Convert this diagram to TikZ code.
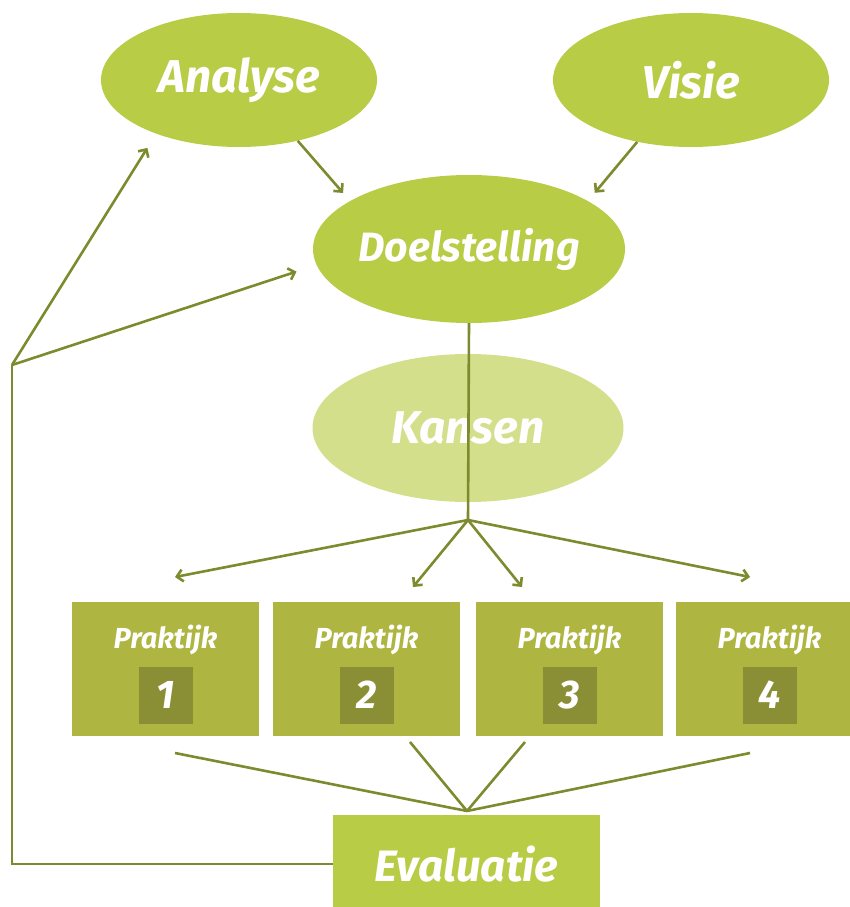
\documentclass[tikz,border=0pt]{standalone}
\usepackage{fontspec}
\setmainfont{Fira Sans}
\usetikzlibrary{shapes.geometric, arrows.meta, positioning}

\definecolor{leaf}{RGB}{184,204,70}
\definecolor{leaflight}{RGB}{212,223,140}
\definecolor{boxgreen}{RGB}{174,181,65}
\definecolor{boxdark}{RGB}{138,143,53}
\definecolor{stem}{RGB}{125,138,46}

\tikzset{
  bubble/.style={ellipse, fill=leaf, inner sep=0pt},
  bubbletext/.style={text=white, inner sep=0pt,
    font=\fontsize{46}{50}\selectfont\bfseries\itshape},
  praktijk/.style={fill=boxgreen, minimum width=187pt, minimum height=134pt, inner sep=0pt},
  praktijktext/.style={text=white, inner sep=0pt, font=\fontsize{29}{32}\selectfont\bfseries\itshape},
  numbox/.style={fill=boxdark, text=white, minimum width=54pt, minimum height=57pt,
    inner sep=0pt, font=\fontsize{40}{42}\selectfont\bfseries\itshape},
  link/.style={stem, line width=2.6pt},
}

\begin{document}
\begin{tikzpicture}[x=1pt, y=-1pt, >={Straight Barb[length=6pt,width=12pt]}]
    \useasboundingbox (0,0) rectangle (850,907);

    % --- Positions ---
    \coordinate (back) at (12,365);
    \coordinate (split) at (468,520);
    \coordinate (merge) at (467,811);

    % --- Ellipses ---
    \node[bubble, minimum width=276pt, minimum height=134pt,
      label={[bubbletext]center:Analyse}] (analyse) at (239,80) {};
    \node[bubble, minimum width=276pt, minimum height=134pt,
      label={[bubbletext]center:Visie}] (visie) at (691,80) {};
    \node[bubble, minimum width=312pt, minimum height=148pt,
      label={[bubbletext, font=\fontsize{41}{44}\selectfont\bfseries\itshape]center:Doelstelling}] (doel) at (469,249) {};
    \node[bubble, fill=leaflight, minimum width=311pt, minimum height=148pt,
      label={[bubbletext]center:Kansen}] (kansen) at (468,428) {};

    % --- Praktijk boxes ---
    \foreach \i/\x in {1/165.5, 2/366.5, 3/569.5, 4/769.5} {
      \node[praktijk] (prak\i) at (\x,669) {};
      \node[praktijktext] (txt\i) at ([yshift=29pt]prak\i.center) {Praktijk};
      \node[numbox] (num\i) at ([yshift=-26pt]prak\i.center) {\i};
    }

    % --- Evaluatie ---
    \node[fill=leaf, minimum width=267pt, minimum height=98pt, inner sep=0pt,
      label={[bubbletext, font=\fontsize{44}{48}\selectfont\bfseries\itshape]center:Evaluatie}] (eval) at (466.5,864) {};

    % --- Arrows into Doelstelling ---
    \draw[link, ->, shorten >=10.6pt] (analyse.-46) -- (doel.158);
    \draw[link, ->, shorten >=10.6pt] (visie.229) -- (doel.22);

    % --- Feedback loop ---
    \draw[link] (eval.west) -| (back);
    \draw[link, ->, shorten >=16.6pt] (back) -- (analyse.213);
    \draw[link, ->, shorten >=21pt] (back) -- (doel.186);

    % --- Doelstelling down to the praktijk ---
    \draw[link] (doel.south) -- (split);
    \foreach \i/\x/\y in {1/175/577, 2/413/587, 3/522/587, 4/750/577} {
      \coordinate (tip\i) at (\x,\y);
      \draw[link, ->] (split) -- (tip\i);
    }

    % --- Praktijk to Evaluatie ---
    \foreach \i/\x/\y in {1/175/753, 2/410/742, 3/525/742, 4/750/753} {
      \coordinate (foot\i) at (\x,\y);
      \draw[link] (foot\i) -- (merge);
    }
\end{tikzpicture}
\end{document}
